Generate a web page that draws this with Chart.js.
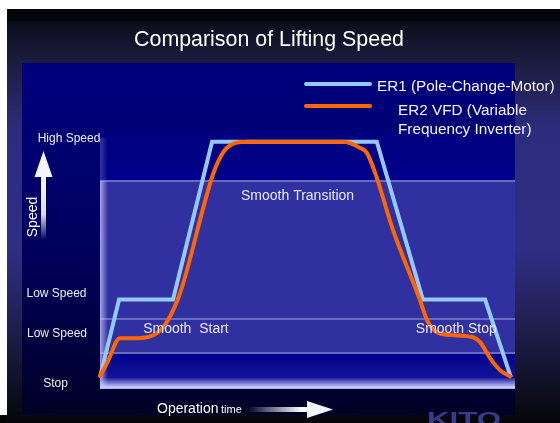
<!DOCTYPE html>
<html><head><meta charset="utf-8">
<script src="https://cdn.jsdelivr.net/npm/chart.js@4"></script>
<style>html,body{margin:0;padding:0;background:#fff;overflow:hidden}#wrap{width:560px;height:423px}</style>
</head><body><div id="wrap"><canvas id="c" width="560" height="423"></canvas></div>
<script>
// ---- data ----
const er1Time  = [0, 4.6, 17.6, 27.0, 66.7, 77.8, 92.8, 99.0];
const er1Speed = [0, 33, 33, 100, 100, 33, 33, 0];
const er2Time  = [0, 1.7, 4.8, 9.2, 13.7, 16.4, 19.3, 27.2, 29.6, 32.0, 35.4, 58.6, 62.7, 64.3, 66.3, 70.6, 77.1, 78.8, 81.2, 84.6, 89.9, 91.6, 94.0, 96.4, 98.8];
const er2Speed = [0.5, 6, 16.6, 16.6, 18.7, 24.3, 35.7, 86, 95.3, 99.1, 100, 100, 97.4, 95.3, 86.8, 62.6, 32.8, 24.3, 19.1, 17.9, 17, 14.9, 8.1, 3, 0.4];
const seriesNames = ['ER1 (Pole-Change-Motor)', 'ER2 VFD (Variable', 'Frequency Inverter)'];
const yTickLabels = ['High Speed', 'Low Speed', 'Low Speed', 'Stop'];
const yTickValues = [100, 34, 17, -4.2];
const bandLines = [83.3, 24.7, 10.3];
const noteTexts = ['Smooth Transition', 'Smooth  Start', 'Smooth Stop'];
const noteTime  = [47.6, 10.4, 76.1];
const noteSpeed = [75.3, 18.8, 18.8];
const titleText = 'Comparison of Lifting Speed';
const yAxisTitle = 'Speed';
const xAxisTitle = ['Operation', 'time'];

const FONT = '"Liberation Sans", Arial, sans-serif';

const bgPlugin = {
  id: 'bg',
  beforeDraw(chart) {
    const {ctx, chartArea: a, scales: {y}} = chart;
    ctx.save();
    ctx.fillStyle = '#fff'; ctx.fillRect(0, 0, 560, 423);
    let g = ctx.createLinearGradient(0, 9, 0, 423);
    g.addColorStop(0, '#020208');
    g.addColorStop(0.029, '#0c0c1a');
    g.addColorStop(0.13, '#1c1c40');
    g.addColorStop(0.292, '#2c2c7e');
    g.addColorStop(0.582, '#2e2e85');
    g.addColorStop(0.775, '#1e1e4c');
    g.addColorStop(0.981, '#08080f');
    g.addColorStop(1, '#050508');
    ctx.fillStyle = g; ctx.fillRect(7, 9, 553, 414);
    ctx.fillStyle = '#04040b'; ctx.fillRect(7, 9, 553, 12);
    ctx.fillStyle = '#050508'; ctx.fillRect(0, 415, 7, 8);
    // panel
    g = ctx.createLinearGradient(0, 63, 0, 415);
    g.addColorStop(0, '#00007e');
    g.addColorStop(0.22, '#000072');
    g.addColorStop(0.53, '#00005c');
    g.addColorStop(0.76, '#000042');
    g.addColorStop(1, '#000026');
    ctx.fillStyle = g; ctx.fillRect(22, 63, 493, 352);
    // inner plot
    const yb1 = y.getPixelForValue(bandLines[0]);
    const yb3 = y.getPixelForValue(bandLines[2]);
    const yShelf = y.getPixelForValue(-0.3);
    g = ctx.createLinearGradient(0, a.top, 0, yb1);
    g.addColorStop(0, '#00007e'); g.addColorStop(1, '#00008c');
    ctx.fillStyle = g; ctx.fillRect(a.left, a.top, a.right - a.left, yb1 - a.top);
    ctx.fillStyle = '#3030a0'; ctx.fillRect(a.left, yb1, a.right - a.left, yb3 - yb1);
    g = ctx.createLinearGradient(0, yb3, 0, yShelf);
    g.addColorStop(0, '#00008c'); g.addColorStop(1, '#14149a');
    ctx.fillStyle = g; ctx.fillRect(a.left, yb3, a.right - a.left, yShelf - yb3);
    g = ctx.createLinearGradient(0, yShelf, 0, a.bottom);
    g.addColorStop(0, '#2020a0'); g.addColorStop(0.8, '#c0c0f8'); g.addColorStop(0.9, '#d4d4ff'); g.addColorStop(1, '#8a8ad0');
    ctx.fillStyle = g; ctx.fillRect(a.left, yShelf, a.right - a.left, a.bottom - yShelf);
    ctx.strokeStyle = '#6a6ac4'; ctx.lineWidth = 2;
    bandLines.forEach(v => {
      const py = Math.round(y.getPixelForValue(v));
      ctx.beginPath(); ctx.moveTo(a.left, py); ctx.lineTo(a.right, py); ctx.stroke();
    });
    // left glow
    g = ctx.createLinearGradient(a.left, 0, a.left + 8, 0);
    g.addColorStop(0, 'rgba(200,200,255,0.75)'); g.addColorStop(1, 'rgba(200,200,255,0)');
    ctx.fillStyle = g;
    ctx.fillRect(a.left, yb1, 8, a.bottom - yb1);
    ctx.globalAlpha = 0.35;
    ctx.fillRect(a.left, a.top + 8, 8, yb1 - a.top - 8);
    ctx.restore();
  }
};

const textPlugin = {
  id: 'texts',
  afterDraw(chart) {
    const {ctx, scales: {x, y}, data} = chart;
    ctx.save();
    ctx.fillStyle = '#ffffff';
    ctx.textBaseline = 'alphabetic';
    // title
    ctx.font = '21.4px ' + FONT; ctx.textAlign = 'center';
    ctx.fillText(titleText, 269, 46);
    // legend
    const c0 = data.datasets[0].borderColor, c1 = data.datasets[1].borderColor;
    ctx.lineWidth = 4; ctx.lineCap = 'round';
    ctx.strokeStyle = c0; ctx.beginPath(); ctx.moveTo(306, 84); ctx.lineTo(370, 84); ctx.stroke();
    ctx.strokeStyle = c1; ctx.beginPath(); ctx.moveTo(306, 106); ctx.lineTo(370, 106); ctx.stroke();
    ctx.font = '15.3px ' + FONT; ctx.textAlign = 'left'; ctx.fillStyle = '#f4f4ff';
    ctx.fillText(seriesNames[0], 377, 90.5);
    ctx.fillText(seriesNames[1], 398, 114.5);
    ctx.fillText(seriesNames[2], 398, 133.5);
    // y labels
    const yLabelX = [69, 56.5, 57, 55.5];
    ctx.font = '12px ' + FONT; ctx.textAlign = 'center'; ctx.fillStyle = '#ececf6';
    yTickLabels.forEach((t, i) => ctx.fillText(t, yLabelX[i], y.getPixelForValue(yTickValues[i])));
    // speed arrow
    let g = ctx.createLinearGradient(0, 176, 0, 240);
    g.addColorStop(0, 'rgba(255,255,255,1)'); g.addColorStop(0.6, 'rgba(255,255,255,0.85)'); g.addColorStop(1, 'rgba(255,255,255,0)');
    ctx.fillStyle = g; ctx.fillRect(41, 176, 5, 64);
    ctx.fillStyle = '#f4f4ff';
    ctx.beginPath(); ctx.moveTo(43.5, 151); ctx.lineTo(52.5, 177); ctx.lineTo(34.5, 177); ctx.closePath(); ctx.fill();
    ctx.save(); ctx.translate(37, 217); ctx.rotate(-Math.PI / 2);
    ctx.font = '14px ' + FONT; ctx.textAlign = 'center'; ctx.fillStyle = '#ffffff';
    ctx.fillText(yAxisTitle, 0, 0); ctx.restore();
    // x label
    ctx.textAlign = 'left'; ctx.fillStyle = '#ffffff';
    ctx.font = '14px ' + FONT; ctx.fillText(xAxisTitle[0], 157, 413);
    ctx.font = '11px ' + FONT; ctx.fillText(xAxisTitle[1], 221, 413);
    g = ctx.createLinearGradient(247, 0, 302, 0);
    g.addColorStop(0, 'rgba(255,255,255,0)'); g.addColorStop(1, 'rgba(255,255,255,1)');
    ctx.fillStyle = g; ctx.fillRect(247, 407, 62, 5);
    ctx.fillStyle = '#f4f4ff';
    ctx.beginPath(); ctx.moveTo(307, 401); ctx.lineTo(333, 409.5); ctx.lineTo(307, 418); ctx.closePath(); ctx.fill();
    // notes
    ctx.font = '14px ' + FONT; ctx.fillStyle = '#e8e8ff';
    noteTexts.forEach((t, i) => {
      ctx.textAlign = i === 0 ? 'center' : 'left';
      ctx.fillText(t, x.getPixelForValue(noteTime[i]), y.getPixelForValue(noteSpeed[i]));
    });
    // logo
    ctx.save();
    ctx.font = 'bold 20px ' + FONT; ctx.textBaseline = 'top'; ctx.textAlign = 'left';
    const w = ctx.measureText('KITO').width;
    ctx.translate(427, 410); ctx.scale(74 / w, 1);
    ctx.fillStyle = '#3a3a8c'; ctx.fillText('KITO', 0, 0);
    ctx.restore();
    ctx.restore();
  }
};

new Chart(document.getElementById('c'), {
  type: 'line',
  data: {
    datasets: [
      { label: seriesNames[0], data: er1Time.map((t, i) => ({x: t, y: er1Speed[i]})),
        borderColor: '#94c8ff', borderWidth: 4, pointRadius: 0, tension: 0, borderJoinStyle: 'miter', order: 2, clip: false },
      { label: seriesNames[1] + ' ' + seriesNames[2], data: er2Time.map((t, i) => ({x: t, y: er2Speed[i]})),
        borderColor: '#ff6600', borderWidth: 4, pointRadius: 0, cubicInterpolationMode: 'monotone', borderJoinStyle: 'round', borderCapStyle: 'round', order: 1, clip: false }
    ]
  },
  options: {
    responsive: false, animation: false, devicePixelRatio: 1, events: [],
    layout: { padding: { left: 100, right: 45, top: 130, bottom: 34 } },
    scales: {
      x: { type: 'linear', min: 0, max: 100, display: false },
      y: { type: 'linear', min: -5, max: 105, display: false }
    },
    plugins: { legend: { display: false }, tooltip: { enabled: false } }
  },
  plugins: [bgPlugin, textPlugin]
});
</script></body></html>
